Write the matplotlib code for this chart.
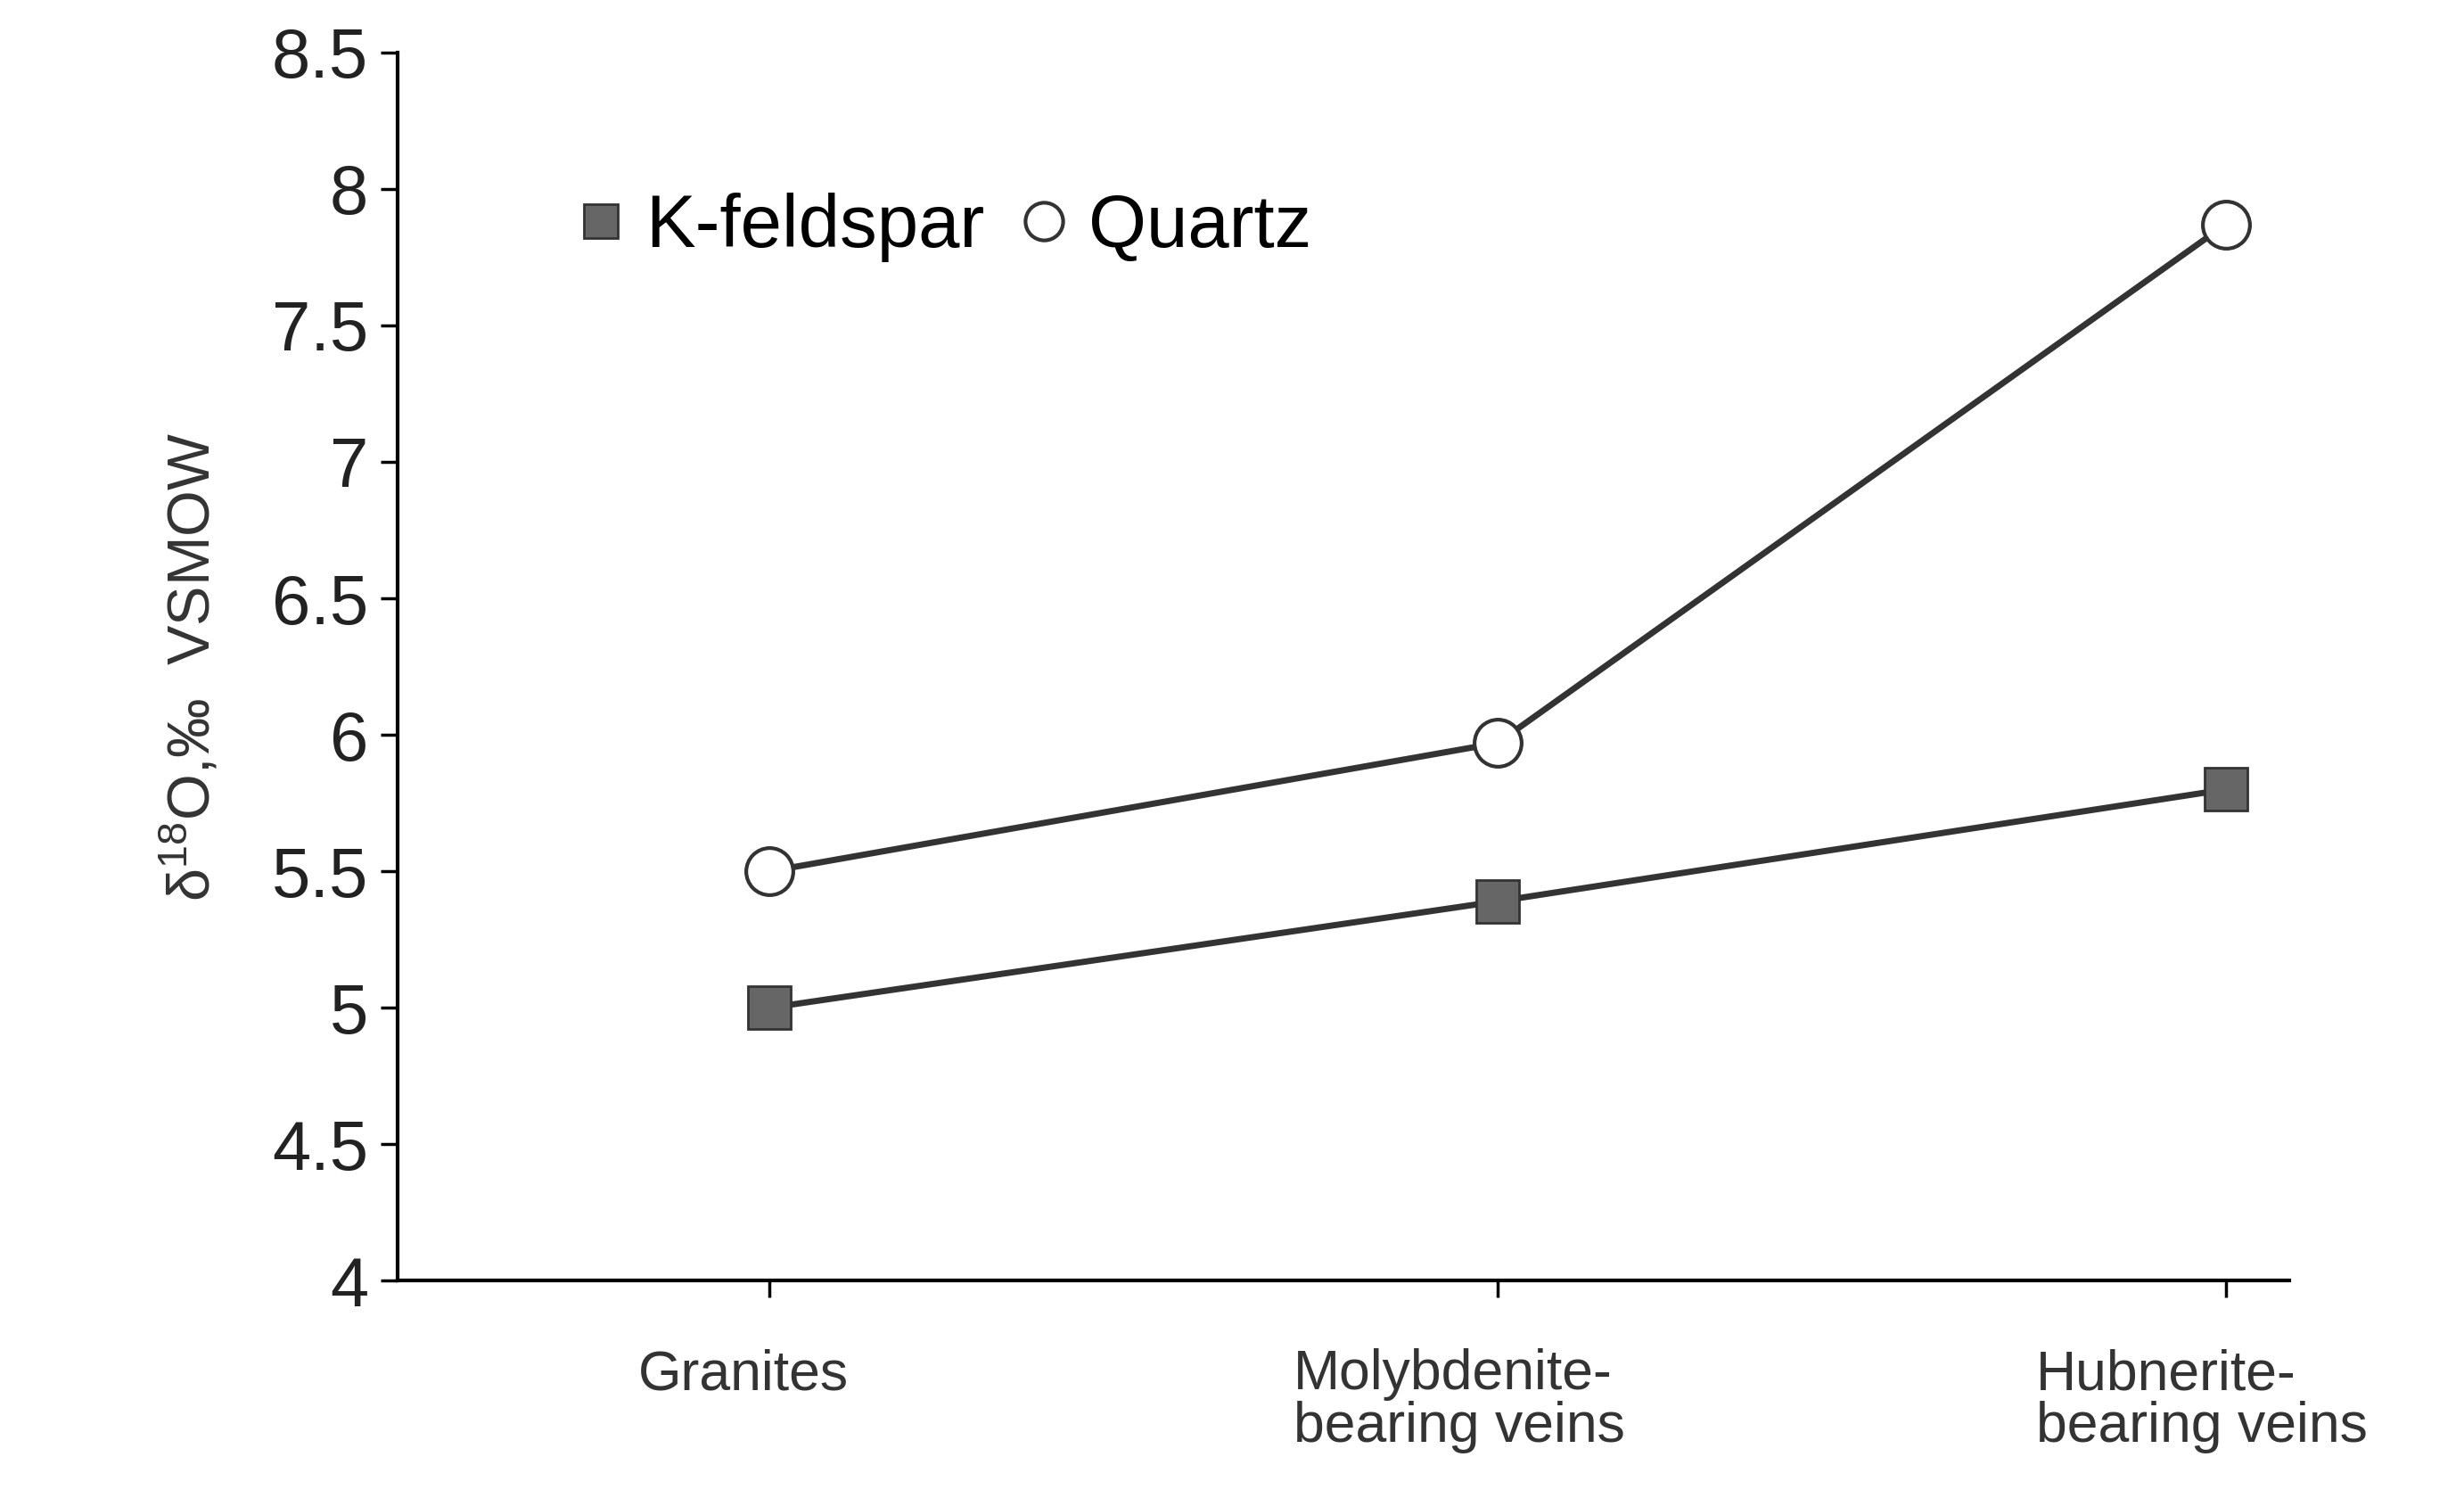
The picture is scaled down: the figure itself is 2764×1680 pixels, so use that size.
import numpy as np
import matplotlib
matplotlib.use("Agg")
import matplotlib.pyplot as plt
from matplotlib.lines import Line2D
from matplotlib import transforms

plt.rcParams["font.family"] = ["Liberation Sans", "DejaVu Sans"]

categories = ["Granites", "Molybdenite-\nbearing veins", "Hubnerite-\nbearing veins"]
kfeldspar = [5.0, 5.39, 5.80]
quartz = [5.50, 5.97, 7.87]
yticks = [4, 4.5, 5, 5.5, 6, 6.5, 7, 7.5, 8, 8.5]
ylabels = ["4", "4.5", "5", "5.5", "6", "6.5", "7", "7.5", "8", "8.5"]
label_offsets = [-0.18, -0.28, -0.26]  # left edge of each category label, in category units

fig = plt.figure(figsize=(27.64, 16.8), dpi=100)
ax = fig.add_axes([0.1615, 0.145, 0.7675, 0.82])
x = np.arange(len(categories))

ax.plot(x, quartz, color="#333333", lw=5, marker="o", ms=38, mfc="white",
        mec="#333333", mew=3, zorder=3)
ax.plot(x, kfeldspar, color="#333333", lw=5, marker="s", ms=34, mfc="#666666",
        mec="#333333", mew=2, zorder=3)

ax.set_xlim(-0.51, 2.087)
ax.set_ylim(4, 8.5)
ax.set_yticks(yticks)
ax.set_yticklabels(ylabels, fontsize=56, color="#222222")
ax.set_xticks(x)
ax.set_xticklabels([])
trans = transforms.blended_transform_factory(ax.transData, ax.transAxes)
for xi, cat, off in zip(x, categories, label_offsets):
    ax.text(xi + off, -0.055, cat, transform=trans, ha="left", va="top",
            fontsize=45, color="#333333", linespacing=1.0)
ax.tick_params(axis="x", length=14, width=2.5)
ax.tick_params(axis="y", length=14, width=2.5, pad=10)
for s in ["top", "right"]:
    ax.spines[s].set_visible(False)
for s in ["left", "bottom"]:
    ax.spines[s].set_linewidth(3)

ax.set_ylabel(r"$\mathregular{\delta^{18}}$O,‰  VSMOW", fontsize=48, color="#333333", labelpad=40)

handles = [Line2D([], [], ls="none", marker="s", ms=34, mfc="#666666", mec="#333333", mew=2),
           Line2D([], [], ls="none", marker="o", ms=38, mfc="white", mec="#333333", mew=3)]
ax.legend(handles, ["K-feldspar", "Quartz"], loc="upper left", bbox_to_anchor=(0.06, 0.94),
          frameon=False, ncol=2, fontsize=60, handlelength=0.6, handletextpad=0.3,
          columnspacing=0.5, markerscale=0.8)

fig.savefig("out.png", dpi=100)
